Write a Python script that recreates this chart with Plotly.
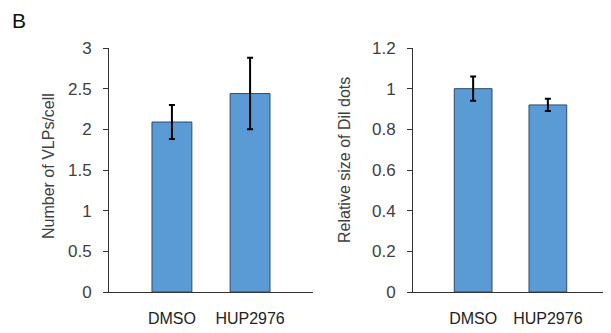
import plotly.graph_objects as go

categories = ["DMSO", "HUP2976"]
vlps_values = [2.09, 2.44]
vlps_errors = [0.21, 0.44]
dil_values = [1.0, 0.92]
dil_errors = [0.06, 0.03]
left_ticks = [0, 0.5, 1, 1.5, 2, 2.5, 3]
right_ticks = [0, 0.2, 0.4, 0.6, 0.8, 1, 1.2]
right_tick_text = ["0", "0.2", "0.4", "0.6", "0.8", "1", "1.2"]

FONT = "Liberation Sans, Arial, sans-serif"
TXT = "#404040"
BAR = "#5B9BD5"
EDGE = "#2E4A6B"

# page body adds an 8px offset; figure coordinates are screen coordinates minus 8
W, H, OFF = 603, 325, 8


def px(x):
    return (x - OFF) / W


def py(y):
    return 1 - (y - OFF) / H


xpos = list(range(len(categories)))

fig = go.Figure()
fig.add_trace(go.Bar(
    x=xpos, y=vlps_values, width=0.51,
    marker=dict(color=BAR, line=dict(color=EDGE, width=1)),
    error_y=dict(type="data", array=vlps_errors, color="black", thickness=2, width=3),
    xaxis="x", yaxis="y", showlegend=False,
))
fig.add_trace(go.Bar(
    x=xpos, y=dil_values, width=0.505,
    marker=dict(color=BAR, line=dict(color=EDGE, width=1)),
    error_y=dict(type="data", array=dil_errors, color="black", thickness=2, width=3),
    xaxis="x2", yaxis="y2", showlegend=False,
))

xcommon = dict(
    range=[-0.805, 1.805], tickmode="array", tickvals=xpos, ticktext=categories,
    showline=True, linecolor="#333333", linewidth=1, ticks="", showgrid=False,
    zeroline=False, tickfont=dict(family=FONT, size=16, color="#222222"),
    ticklabelstandoff=12, fixedrange=True, automargin=False,
)
ycommon = dict(
    showline=True, linecolor="#333333", linewidth=1, ticks="outside", ticklen=5,
    tickcolor="#333333", showgrid=False, zeroline=False,
    tickfont=dict(family=FONT, size=17, color=TXT), fixedrange=True, automargin=False,
    ticklabelstandoff=8,
)

fig.update_layout(
    width=W, height=H, autosize=False,
    margin=dict(l=0, r=0, t=0, b=0, pad=0, autoexpand=False),
    paper_bgcolor="white", plot_bgcolor="white",
    xaxis=dict(domain=[px(109), px(313)], anchor="y", **xcommon),
    yaxis=dict(domain=[py(292), py(48)], anchor="x", range=[0, 3],
               tickvals=left_ticks, **ycommon),
    xaxis2=dict(domain=[px(413), px(608)], anchor="y2", **xcommon),
    yaxis2=dict(domain=[py(292), py(48)], anchor="x2", range=[0, 1.2],
                tickvals=right_ticks, ticktext=right_tick_text, **ycommon),
    annotations=[
        dict(text="B", x=px(18.5), y=py(20.5), xref="paper", yref="paper",
             xanchor="center", yanchor="middle",
             showarrow=False, font=dict(family=FONT, size=21, color="#111111")),
        dict(text="Number of VLPs/cell", x=px(48), y=py(166),
             xanchor="center", yanchor="middle",
             xref="paper", yref="paper", textangle=-90, showarrow=False,
             font=dict(family=FONT, size=16, color=TXT)),
        dict(text="Relative size of Dil dots", x=px(345), y=py(160),
             xanchor="center", yanchor="middle",
             xref="paper", yref="paper", textangle=-90, showarrow=False,
             font=dict(family=FONT, size=16, color=TXT)),
    ],
)

fig.write_html("out.html")
